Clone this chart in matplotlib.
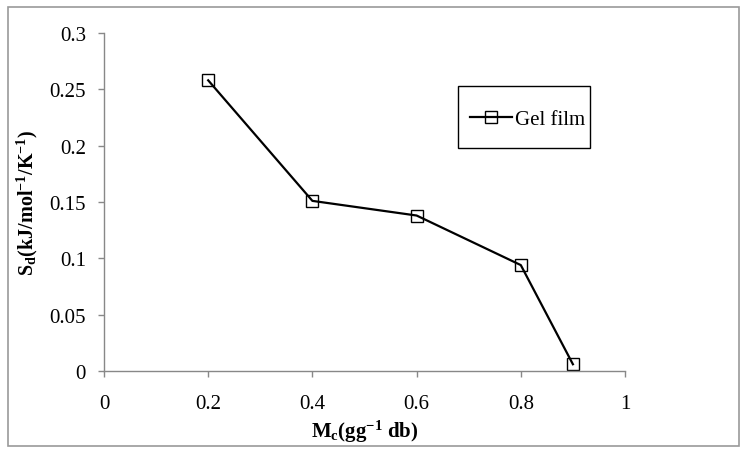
import matplotlib
matplotlib.use("Agg")
import matplotlib.pyplot as plt
from matplotlib.patches import Rectangle

mc = [0.2, 0.4, 0.6, 0.8, 0.9]
sd = [0.258, 0.151, 0.138, 0.094, 0.006]
series_name = "Gel film"
xticks = [0, 0.2, 0.4, 0.6, 0.8, 1]
xticklabels = ["0", "0.2", "0.4", "0.6", "0.8", "1"]
yticks = [0, 0.05, 0.1, 0.15, 0.2, 0.25, 0.3]
yticklabels = ["0", "0.05", "0.1", "0.15", "0.2", "0.25", "0.3"]

plt.rcParams['font.family'] = ['Liberation Serif', 'DejaVu Serif']
plt.rcParams['mathtext.fontset'] = 'custom'
plt.rcParams['mathtext.rm'] = 'Liberation Serif'
plt.rcParams['mathtext.bf'] = 'Liberation Serif:bold'
plt.rcParams['mathtext.it'] = 'Liberation Serif:italic'

W, H = 744, 452
fig = plt.figure(figsize=(W/100, H/100), dpi=100)
fig.patches.append(Rectangle((8/W, 1-447/H), 731/W, 439/H, transform=fig.transFigure,
                             fill=False, edgecolor='#9a9a9a', linewidth=1.2))
ax = fig.add_axes([104/W, 1-372/H, 521/W, 338/H])

ax.plot(mc, sd, color='black', linewidth=1.6, marker='s', markersize=9,
        markerfacecolor='none', markeredgecolor='black', markeredgewidth=1.0,
        label=series_name)

ax.set_xlim(0, 1)
ax.set_ylim(0, 0.3)
ax.set_xticks(xticks)
ax.set_xticklabels(xticklabels)
ax.set_yticks(yticks)
ax.set_yticklabels(yticklabels)
for s in ['top', 'right']:
    ax.spines[s].set_visible(False)
for s in ['left', 'bottom']:
    ax.spines[s].set_color('#888888')
    ax.spines[s].set_linewidth(1.0)
ax.tick_params(axis='both', colors='#888888', labelcolor='black', labelsize=15,
               length=4.5, width=1.0, direction='out')
ax.tick_params(axis='x', pad=12)
ax.tick_params(axis='y', pad=8.5)

fig.text(27/W, 1-203/H, r"S$_\mathbf{d}$(kJ/mol$^{\mathbf{-1}}$/K$^{\mathbf{-1}}$)",
         fontsize=14.5, fontweight='bold', rotation=90, ha='center', va='center')
fig.text(365/W, 1-432/H, r"M$_\mathbf{c}$(gg$^{\mathbf{-1}}$ db)", fontsize=15,
         fontweight='bold', ha='center', va='center')

fig.patches.append(Rectangle((458/W, 1-149/H), 132/W, 62/H, transform=fig.transFigure,
                             fill=False, edgecolor='black', linewidth=1.0))
leg = ax.legend(loc='center left', bbox_to_anchor=(470/W, 1-120/H),
                bbox_transform=fig.transFigure, frameon=False, fontsize=15,
                handlelength=2.0, handletextpad=0.15, borderpad=0, borderaxespad=0)

fig.savefig("out.png", dpi=100)
